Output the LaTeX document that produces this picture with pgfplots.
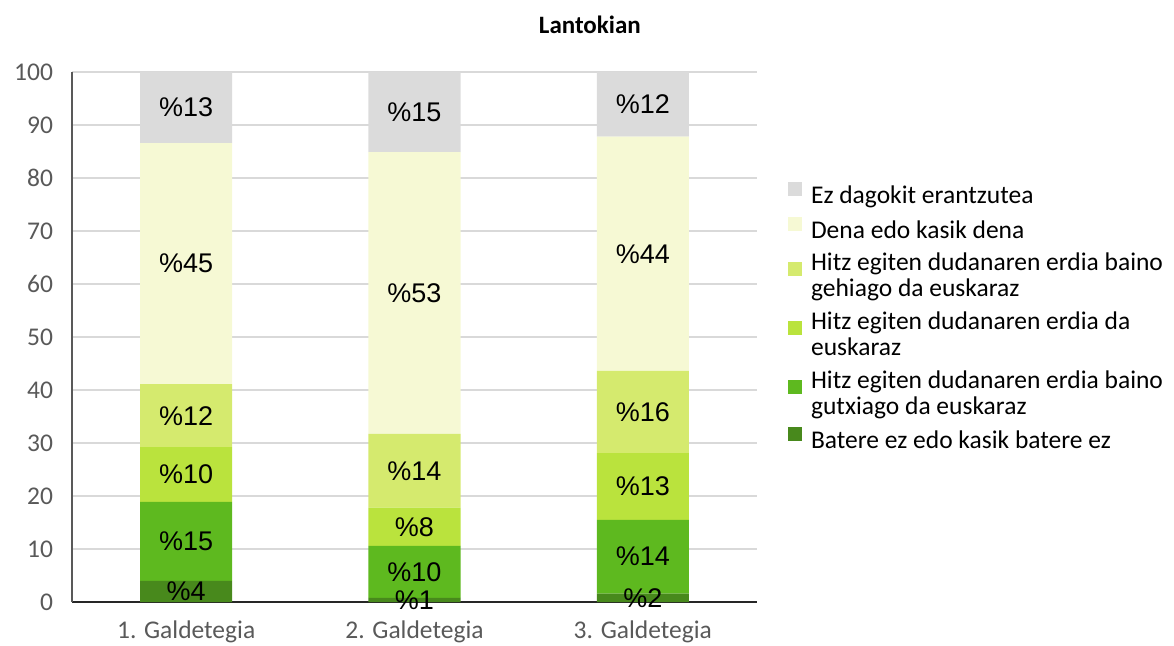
\documentclass[border=0pt]{standalone}
\usepackage{fontspec}
\setmainfont{Carlito}
\newfontfamily\arial{Liberation Sans}
\usepackage{pgfplots}
\pgfplotsset{compat=1.18}

\definecolor{c1}{RGB}{72,137,28}
\definecolor{c2}{RGB}{94,185,31}
\definecolor{c3}{RGB}{186,227,61}
\definecolor{c4}{RGB}{213,234,110}
\definecolor{c5}{RGB}{246,249,212}
\definecolor{c6}{RGB}{219,219,219}
\definecolor{tickgray}{RGB}{89,89,89}
\definecolor{gridgray}{RGB}{217,217,217}

\begin{document}
\begin{tikzpicture}
\begin{axis}[
    scale only axis,
    width=342.5pt, height=265pt,
    clip=false,
    ybar stacked,
    bar width=46pt,
    xmin=-0.5, xmax=2.5,
    ymin=0, ymax=100,
    xtick={0,1,2},
    xticklabels={1. Galdetegia, 2. Galdetegia, 3. Galdetegia},
    ytick={0,10,...,100},
    major tick length=0pt,
    ymajorgrids,
    major grid style={draw=gridgray, line width=0.9pt},
    axis x line*=bottom,
    axis y line*=left,
    x axis line style={draw=black!85, line width=0.8pt},
    y axis line style={draw=tickgray, line width=0.8pt},
    /pgf/number format/assume math mode=true,
    ticklabel style={font=\fontsize{12.75}{14}\selectfont, text=tickgray},
    yticklabel style={xshift=-6pt},
    xticklabel style={yshift=-6pt},
    every axis plot/.append style={draw=none},
    point meta=explicit symbolic,
    nodes near coords,
    every node near coord/.append style={anchor=center,
        font=\arial\fontsize{13.5}{15}\selectfont, text=black},
    reverse legend,
    legend image code/.code={\fill[#1] (0pt,0pt) rectangle (7pt,7pt);},
    legend style={at={(1.036,0.80)}, anchor=north west, draw=none, fill=none,
        font=\fontsize{12.75}{13}\selectfont, row sep=4pt,
        cells={anchor=west, align=left}, nodes={inner sep=1pt},
        /tikz/every odd column/.append style={column sep=3.5pt}},
]
\addplot[fill=c1] coordinates {(0,4.0) [\%4] (1,0.8) [\%1] (2,1.6) [\%2]};
\addlegendentry{Batere ez edo kasik batere ez}
\addplot[fill=c2] coordinates {(0,14.9) [\%15] (1,9.8) [\%10] (2,13.9) [\%14]};
\addlegendentry{Hitz egiten dudanaren erdia baino\\gutxiago da euskaraz}
\addplot[fill=c3] coordinates {(0,10.3) [\%10] (1,7.2) [\%8] (2,12.6) [\%13]};
\addlegendentry{Hitz egiten dudanaren erdia da\\euskaraz}
\addplot[fill=c4] coordinates {(0,11.9) [\%12] (1,13.9) [\%14] (2,15.5) [\%16]};
\addlegendentry{Hitz egiten dudanaren erdia baino\\gehiago da euskaraz}
\addplot[fill=c5] coordinates {(0,45.5) [\%45] (1,53.2) [\%53] (2,44.2) [\%44]};
\addlegendentry{Dena edo kasik dena}
\addplot[fill=c6] coordinates {(0,13.4) [\%13] (1,15.1) [\%15] (2,12.2) [\%12]};
\addlegendentry{Ez dagokit erantzutea}
\node[font=\bfseries\fontsize{12.5}{14}\selectfont] at (rel axis cs:0.756,1.089) {Lantokian};
\coordinate (bl) at (rel axis cs:0,0);
\end{axis}
\pgfresetboundingbox
\path (bl) ++(-36pt,-21.5pt) rectangle ++(587pt,322.5pt);
\end{tikzpicture}
\end{document}
